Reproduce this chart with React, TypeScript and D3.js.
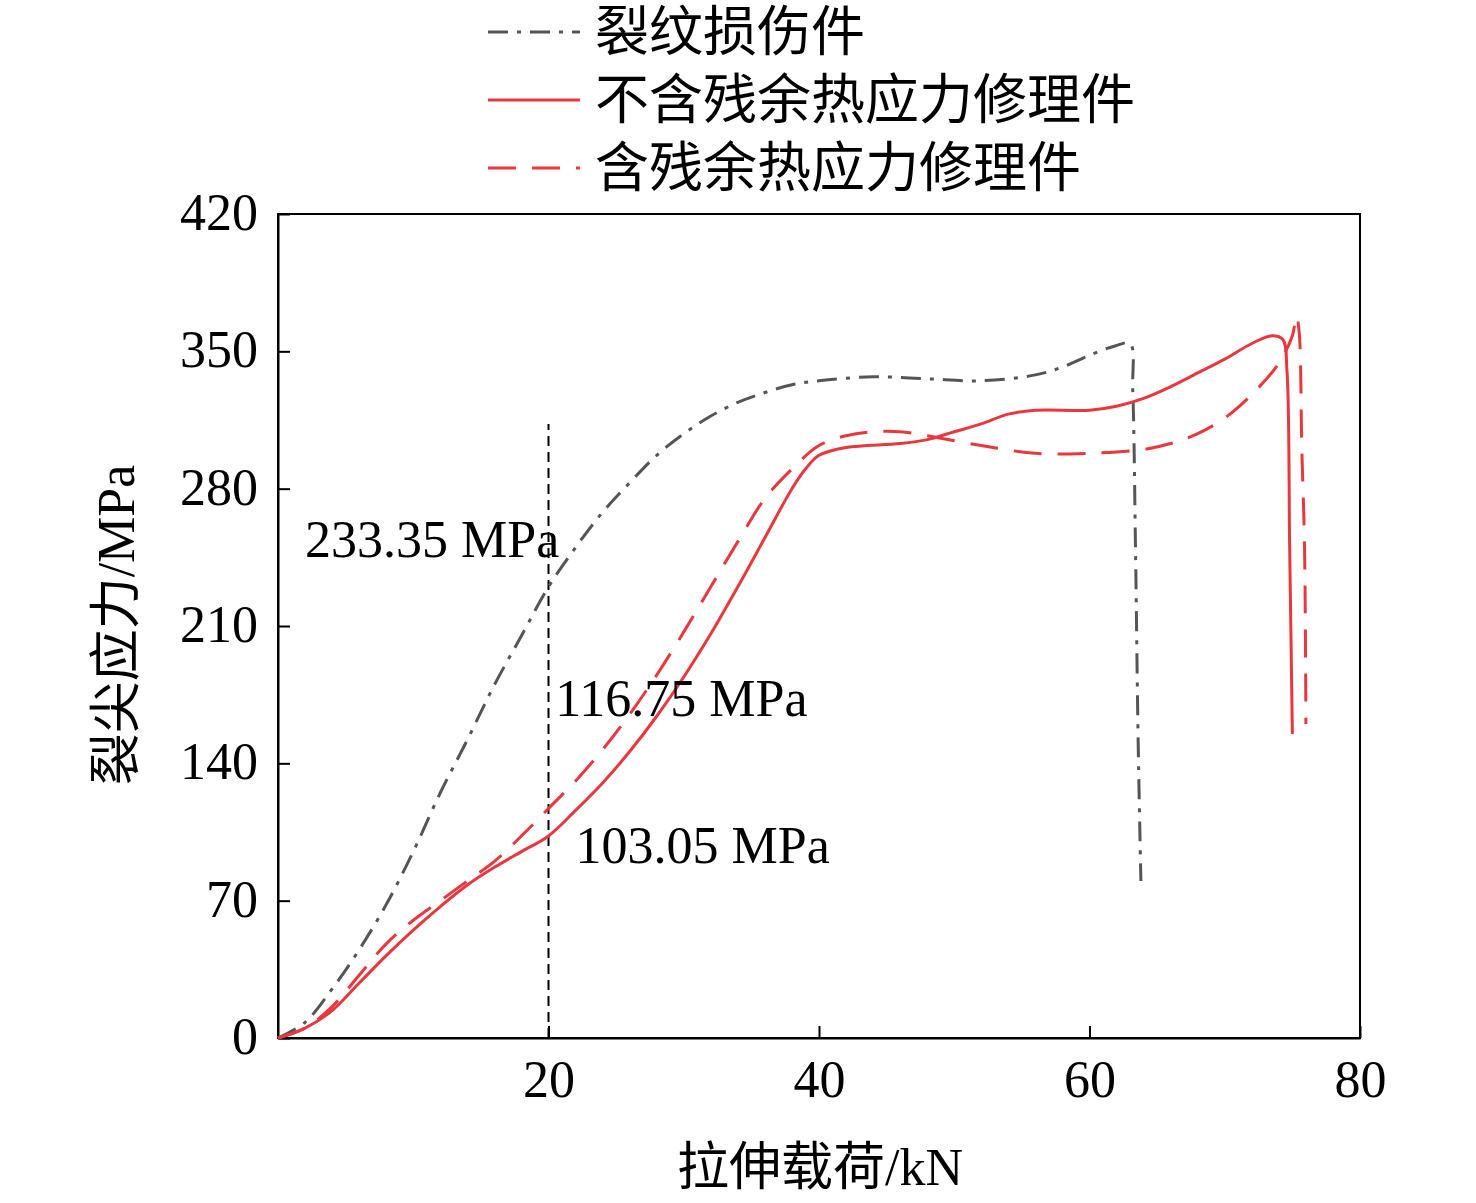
import * as React from 'react';
import { useEffect, useRef } from 'react';
import * as d3 from 'd3';

type P = [number, number];

const crackSeries: P[] = [[0,0],[2,8],[4,25],[6,45],[8,68],[10,95],[12,125],[14,152],[16,180],[18,205],[20,230],[22,250],[24,268],[26,283],[28,297],[30,308],[32,317],[34,324],[36,329],[38,333],[40,335],[44,337],[48,336],[52,335],[56,338],[58,342],[60,348],[62,353],[63,354],[63.2,330],[63.4,250],[63.6,150],[63.8,80]];
const noResidual: P[] = [[0,0],[2,5],[4,14],[6,28],[8,42],[10,55],[12,67],[14,78],[16,87],[18,95],[20,103],[22,116],[24,130],[26,146],[28,164],[30,184],[32,206],[34,230],[36,255],[38,280],[39,290],[40,297],[42,301],[46,303],[48,305],[50,309],[52,313],[54,318],[56,320],[60,320],[62,322],[64,326],[66,332],[68,339],[70,346],[72,354],[73.5,358],[74.3,356],[74.6,340],[74.8,250],[75,155]];
const withResidual: P[] = [[0,0],[2,5],[4,16],[6,32],[8,48],[10,60],[12,70],[14,80],[16,90],[18,103],[20,117],[22,131],[24,147],[26,165],[28,185],[30,207],[32,230],[34,253],[36,275],[38,290],[40,302],[42,307],[44,309],[46,309],[48,307],[52,302],[56,298],[60,298],[64,300],[66,303],[68,308],[70,316],[72,328],[74,344],[75,358],[75.3,368],[75.5,360],[75.7,300],[75.9,250],[76,160]];
const legendLabels = ['裂纹损伤件', '不含残余热应力修理件', '含残余热应力修理件'];
const xTicks = [20, 40, 60, 80];
const yTicks = [0, 70, 140, 210, 280, 350, 420];
const annotations: { text: string; x: number; y: number }[] = [
  { text: '233.35 MPa', x: 2, y: 245 },
  { text: '116.75 MPa', x: 20.5, y: 164 },
  { text: '103.05 MPa', x: 22, y: 89 },
];

const RED = '#e8383d';
const GRAY = '#555555';

export default function App() {
  const ref = useRef<SVGSVGElement>(null);
  useEffect(() => {
    const svg = d3.select(ref.current);
    svg.selectAll('*').remove();
    const x = d3.scaleLinear().domain([0, 80]).range([278, 1360]);
    const y = d3.scaleLinear().domain([0, 420]).range([1038, 214]);
    const serif = '"Liberation Serif", "Times New Roman", serif';
    const cjk = '"Noto Sans CJK SC", sans-serif';

    svg.append('rect').attr('x', 278).attr('y', 214).attr('width', 1082).attr('height', 824)
      .attr('fill', 'none').attr('stroke', '#000').attr('stroke-width', 2);

    const xa = svg.append('g').attr('transform', 'translate(0,1038)')
      .call(d3.axisBottom(x).tickValues(xTicks).tickSizeInner(-12).tickSizeOuter(0).tickPadding(22));
    const ya = svg.append('g').attr('transform', 'translate(278,0)')
      .call(d3.axisLeft(y).tickValues(yTicks).tickSizeInner(-12).tickSizeOuter(0).tickPadding(20));
    [xa, ya].forEach(a => {
      a.select('.domain').attr('stroke-width', 2);
      a.selectAll('line').attr('stroke-width', 2);
      a.selectAll('text').attr('font-family', serif).attr('font-size', 52).attr('fill', '#000');
    });
    ya.selectAll('text').attr('dy', '0.3em');

    const line = d3.line<P>().x(d => x(d[0])).y(d => y(d[1])).curve(d3.curveCatmullRom.alpha(0.5));

    svg.append('line').attr('x1', x(20)).attr('x2', x(20)).attr('y1', y(0)).attr('y2', y(313))
      .attr('stroke', '#000').attr('stroke-width', 2).attr('stroke-dasharray', '10,6');

    const series = [
      { data: crackSeries, color: GRAY, dash: '20,9,4,9' },
      { data: noResidual, color: RED, dash: '' },
      { data: withResidual, color: RED, dash: '28,16' },
    ];
    series.forEach(s => {
      svg.append('path').datum(s.data).attr('d', line).attr('fill', 'none')
        .attr('stroke', s.color).attr('stroke-width', 3).attr('stroke-dasharray', s.dash || null);
    });

    annotations.forEach(a => {
      svg.append('text').attr('x', x(a.x)).attr('y', y(a.y)).text(a.text)
        .attr('font-family', serif).attr('font-size', 52).attr('fill', '#000');
    });

    series.forEach((s, i) => {
      const yy = 32 + i * 68;
      svg.append('line').attr('x1', 488).attr('x2', 580).attr('y1', yy).attr('y2', yy)
        .attr('stroke', s.color).attr('stroke-width', 3).attr('stroke-dasharray', s.dash || null);
      svg.append('text').attr('x', 595).attr('y', yy).attr('dy', '0.36em').text(legendLabels[i])
        .attr('font-family', cjk).attr('font-size', 54).attr('fill', '#000');
    });

    svg.append('text').attr('x', 820).attr('y', 1185).attr('text-anchor', 'middle')
      .attr('font-size', 52).attr('fill', '#000')
      .call(t => {
        t.append('tspan').attr('font-family', cjk).text('拉伸载荷');
        t.append('tspan').attr('font-family', serif).text('/kN');
      });
    svg.append('text').attr('transform', 'translate(134,625) rotate(-90)').attr('text-anchor', 'middle')
      .attr('font-size', 52).attr('fill', '#000')
      .call(t => {
        t.append('tspan').attr('font-family', cjk).text('裂尖应力');
        t.append('tspan').attr('font-family', serif).text('/MPa');
      });
  }, []);
  return (
    <svg ref={ref} width={1476} height={1203}
      style={{ position: 'absolute', left: 0, top: 0, background: '#fff' }} />
  );
}
